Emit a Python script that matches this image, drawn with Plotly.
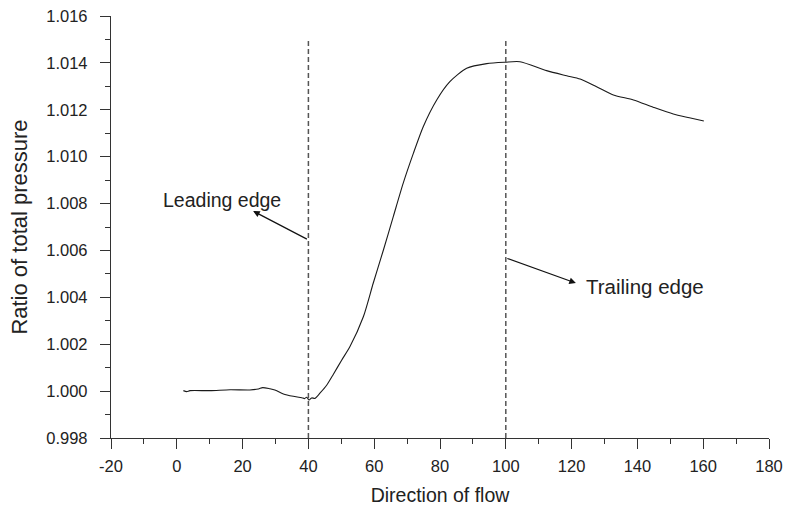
import plotly.graph_objects as go

# ---- data ----
flow_x = [2.0, 3.0, 4.0, 10.1, 16.2, 22.2, 24.8, 26.1, 28.3, 29.8, 32.4, 35.4, 38.0, 38.8, 39.5,
          40.2, 41.0, 42.0, 43.5, 45.6, 47.6, 50.1, 52.6, 56.7, 59.7, 62.8, 65.8, 68.8, 71.9,
          74.9, 79.0, 83.0, 88.1, 94.2, 99.8, 104.3, 112.4, 118.5, 122.6, 127.6, 132.7, 138.8,
          144.8, 150.9, 155.8, 160.2]
pressure_ratio = [1.00002, 0.99998, 1.00002, 1.00002, 1.00006, 1.00005, 1.00009, 1.00015, 1.00010,
                  1.00005, 0.99988, 0.99978, 0.99972, 0.99968, 0.99974, 0.99962, 0.99971, 0.99969,
                  0.99991, 1.00026, 1.00072, 1.00132, 1.00189, 1.00317, 1.00460, 1.00602, 1.00744,
                  1.00886, 1.01014, 1.01128, 1.01242, 1.01320, 1.01377, 1.01397, 1.01403, 1.01405,
                  1.01367, 1.01345, 1.01331, 1.01298, 1.01263, 1.01242, 1.01211, 1.01182, 1.01166,
                  1.01152]

edge_x = [40, 100]
edge_y_top = 1.015

leading_label = "Leading edge"
trailing_label = "Trailing edge"
# arrow (tail -> head) and label positions in data units
leading_tail = (40, 1.00645)
leading_head = (23.2, 1.00768)
leading_text = (13.7, 1.00815)
trailing_tail = (100, 1.00568)
trailing_head = (121.3, 1.00461)
trailing_text = (142.2, 1.00445)

x_ticks = list(range(-20, 181, 20))
y_ticks = [0.998, 1.000, 1.002, 1.004, 1.006, 1.008, 1.010, 1.012, 1.014, 1.016]

FONT = "Liberation Sans, Arial, sans-serif"
INK = "#222222"

fig = go.Figure()
fig.add_trace(go.Scatter(x=flow_x, y=pressure_ratio, mode="lines",
                         line=dict(color="#1a1a1a", width=1.1, shape="spline", smoothing=0.7),
                         showlegend=False, hoverinfo="skip"))

for ex in edge_x:
    fig.add_shape(type="line", xref="x", yref="y", x0=ex, x1=ex, y0=y_ticks[0], y1=edge_y_top,
                  line=dict(color="#555555", width=1.5, dash="5px,3px"))

fig.add_annotation(x=leading_head[0], y=leading_head[1], ax=leading_tail[0], ay=leading_tail[1],
                   xref="x", yref="y", axref="x", ayref="y", text="", showarrow=True,
                   arrowhead=2, arrowsize=1.1, arrowwidth=1.2, arrowcolor="#111111", standoff=0)
fig.add_annotation(x=trailing_head[0], y=trailing_head[1], ax=trailing_tail[0], ay=trailing_tail[1],
                   xref="x", yref="y", axref="x", ayref="y", text="", showarrow=True,
                   arrowhead=2, arrowsize=1.1, arrowwidth=1.2, arrowcolor="#111111", standoff=0)
fig.add_annotation(x=leading_text[0], y=leading_text[1], xref="x", yref="y", text=leading_label,
                   showarrow=False, font=dict(family=FONT, size=19.5, color=INK))
fig.add_annotation(x=trailing_text[0], y=trailing_text[1], xref="x", yref="y", text=trailing_label,
                   showarrow=False, font=dict(family=FONT, size=20.5, color=INK))

axis_common = dict(showgrid=False, zeroline=False, showline=True, linecolor="#333333",
                   linewidth=1.3, ticks="outside", ticklen=10, tickwidth=1.3,
                   tickcolor="#333333", tickfont=dict(family=FONT, size=16.5, color=INK),
                   mirror=False, automargin=False)

fig.update_xaxes(range=[-20, 180], tickvals=x_ticks, ticktext=[str(v) for v in x_ticks],
                 ticklabelstandoff=3,
                 minor=dict(ticks="outside", ticklen=5, tickwidth=1.2, tickcolor="#333333",
                            dtick=10, tick0=-20),
                 title=dict(text="Direction of flow", font=dict(family=FONT, size=19.5, color=INK),
                            standoff=14),
                 **axis_common)
fig.update_yaxes(range=[0.998, 1.016], tickvals=y_ticks,
                 ticktext=[f"{v:.3f}" for v in y_ticks],
                 ticklabelstandoff=9,
                 minor=dict(ticks="outside", ticklen=5, tickwidth=1.2, tickcolor="#333333",
                            dtick=0.001, tick0=0.998),
                 title=dict(text="Ratio of total pressure", font=dict(family=FONT, size=22, color=INK),
                            standoff=12),
                 **axis_common)

fig.update_layout(width=785, height=506, autosize=False,
                  margin=dict(l=111, r=16, t=16, b=68, pad=0),
                  plot_bgcolor="white", paper_bgcolor="white", showlegend=False)

fig.write_html("out.html")
